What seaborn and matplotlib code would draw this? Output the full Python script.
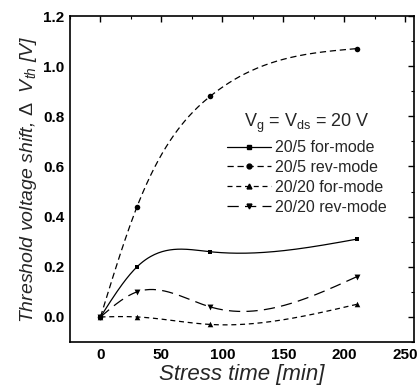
import numpy as np
import pandas as pd
import matplotlib
matplotlib.use("Agg")
import matplotlib.pyplot as plt
import seaborn as sns
from matplotlib.ticker import MultipleLocator
from matplotlib.lines import Line2D

# ---- data ----
stress_time = [0, 30, 90, 210]
for_20_5 = [0.0, 0.20, 0.26, 0.31]
rev_20_5 = [0.0, 0.44, 0.88, 1.07]
for_20_20 = [0.0, 0.0, -0.03, 0.05]
rev_20_20 = [0.0, 0.10, 0.04, 0.16]
series_names = ["20/5 for-mode", "20/5 rev-mode", "20/20 for-mode", "20/20 rev-mode"]
series_values = [for_20_5, rev_20_5, for_20_20, rev_20_20]


def natural_spline(x, y, n=200):
    """Smooth connector through the data points (natural cubic spline)."""
    x = np.asarray(x, float); y = np.asarray(y, float)
    m = len(x); h = np.diff(x)
    A = np.zeros((m, m)); b = np.zeros(m)
    A[0, 0] = A[-1, -1] = 1
    for i in range(1, m - 1):
        A[i, i - 1] = h[i - 1]; A[i, i] = 2 * (h[i - 1] + h[i]); A[i, i + 1] = h[i]
        b[i] = 3 * ((y[i + 1] - y[i]) / h[i] - (y[i] - y[i - 1]) / h[i - 1])
    c = np.linalg.solve(A, b)
    xs = np.linspace(x[0], x[-1], n)
    idx = np.clip(np.searchsorted(x, xs) - 1, 0, m - 2)
    dx = xs - x[idx]
    bb = (y[1:] - y[:-1]) / h - h * (2 * c[:-1] + c[1:]) / 3
    d = (c[1:] - c[:-1]) / (3 * h)
    ys = y[idx] + bb[idx] * dx + c[idx] * dx ** 2 + d[idx] * dx ** 3
    return xs, ys


sns.set_theme(style="white")
plt.rcParams["font.family"] = ["Liberation Sans", "DejaVu Sans"]
plt.rcParams["mathtext.fontset"] = "custom"
plt.rcParams["mathtext.rm"] = "Liberation Sans"
plt.rcParams["mathtext.it"] = "Liberation Sans:italic"

fig = plt.figure(figsize=(4.18, 3.91), dpi=100)
ax = fig.add_axes([0.1675, 0.1253, 0.8225, 0.8337])

styles = [
    dict(ls="-", marker="s", s=10),
    dict(ls=(0, (5, 3)), marker="o", s=16),
    dict(ls=(0, (4, 3)), marker="^", s=16),
    dict(ls=(0, (9, 5)), marker="v", s=18),
]

handles = []
for name, vals, st in zip(series_names, series_values, styles):
    xs, ys = natural_spline(stress_time, vals)
    df_line = pd.DataFrame({"t": xs, "v": ys})
    sns.lineplot(data=df_line, x="t", y="v", ax=ax, color="black", lw=0.9,
                 linestyle=st["ls"], sort=False, estimator=None)
    df_pts = pd.DataFrame({"t": stress_time, "v": vals})
    sns.scatterplot(data=df_pts, x="t", y="v", ax=ax, color="black",
                    marker=st["marker"], s=st["s"], linewidth=0, zorder=3)
    handles.append(Line2D([], [], color="black", lw=0.9, linestyle=st["ls"],
                          marker=st["marker"], markersize=3.5))

ax.set_xlim(-25, 257)
ax.set_ylim(-0.1, 1.2)
ax.xaxis.set_major_locator(MultipleLocator(50))
ax.xaxis.set_minor_locator(MultipleLocator(25))
ax.yaxis.set_major_locator(MultipleLocator(0.2))
ax.yaxis.set_minor_locator(MultipleLocator(0.1))
ax.yaxis.set_major_formatter(matplotlib.ticker.FormatStrFormatter("%.1f"))
ax.tick_params(which="both", direction="in", top=True, right=True,
               labelsize=11, colors="black", pad=4)
ax.tick_params(which="major", length=4, width=1)
ax.tick_params(which="minor", length=2, width=0.8)
for lab in ax.get_xticklabels() + ax.get_yticklabels():
    lab.set_fontweight("bold")
for sp in ax.spines.values():
    sp.set_color("black"); sp.set_linewidth(1.2)

ax.set_xlabel("Stress time [min]", fontsize=16, style="italic", labelpad=2)
ax.set_ylabel(r"Threshold voltage shift, $\Delta$  V$_{\mathit{th}}$ [V]",
              fontsize=14, style="italic", labelpad=3)

leg = ax.legend(handles, series_names, loc="upper left",
                bbox_to_anchor=(0.458, 0.705), frameon=False, fontsize=11.5,
                handlelength=2.7, handletextpad=0.3, labelspacing=0.3,
                borderpad=0, borderaxespad=0,
                title=r"V$_\mathrm{g}$ = V$_\mathrm{ds}$ = 20 V", title_fontsize=13)

fig.savefig("out.png", dpi=100)
